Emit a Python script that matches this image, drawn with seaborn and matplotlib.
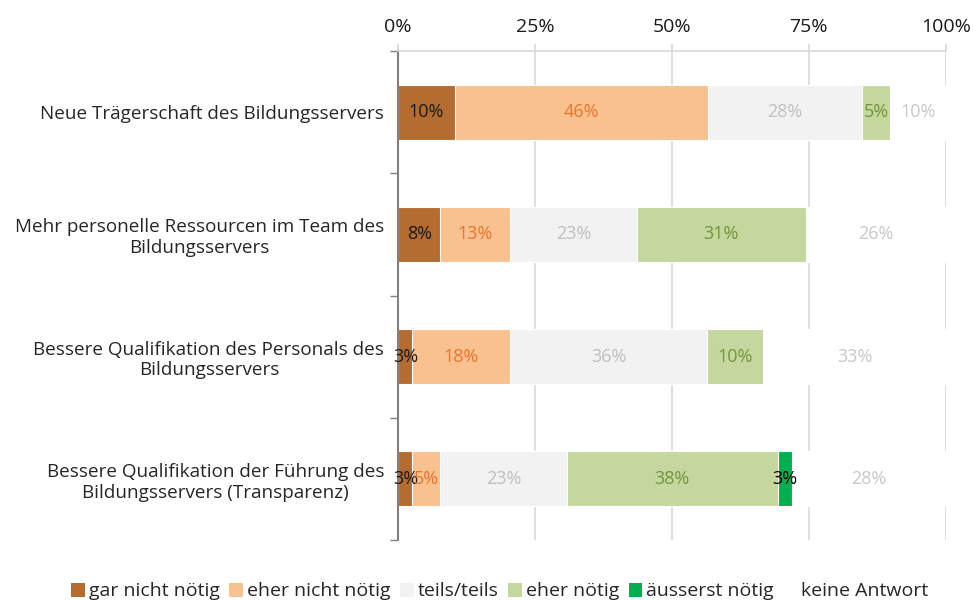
import numpy as np
import pandas as pd
import matplotlib.pyplot as plt
import seaborn as sns
from matplotlib.patches import Patch

sns.set_theme(style="white")
plt.rcParams['font.family'] = ['Open Sans', 'DejaVu Sans']

# data (percent of respondents)
questions = [
    "Neue Trägerschaft des Bildungsservers",
    "Mehr personelle Ressourcen im Team des\nBildungsservers",
    "Bessere Qualifikation des Personals des\nBildungsservers",
    "Bessere Qualifikation der Führung des\nBildungsservers (Transparenz)",
]
answers = ["gar nicht nötig", "eher nicht nötig", "teils/teils",
           "eher nötig", "äusserst nötig", "keine Antwort"]
gar_nicht = [10.3, 7.7, 2.6, 2.6]
eher_nicht = [46.2, 12.8, 17.9, 5.1]
teils = [28.2, 23.1, 35.9, 23.1]
eher = [5.1, 30.8, 10.3, 38.5]
aeusserst = [0.0, 0.0, 0.0, 2.6]
keine = [10.3, 25.6, 33.3, 28.2]

fill_colors = ["#B46C30", "#F9C18F", "#F2F2F2", "#C4D79E", "#00B050", "#FFFFFF"]
text_colors = ["#1A1A1A", "#E9762B", "#BFBFBF", "#76923C", "#000000", "#C8C8C8"]

vals = np.array([gar_nicht, eher_nicht, teils, eher, aeusserst, keine])
cum = vals.cumsum(axis=0)

fig = plt.figure(figsize=(9.76, 6), dpi=100)
ax = fig.add_axes([0.408, 0.1, 0.561, 0.815])

# stacked bars: draw cumulative totals from the outermost segment inwards
for i in range(len(answers) - 1, -1, -1):
    df = pd.DataFrame({"q": questions, "v": cum[i]})
    sns.barplot(data=df, x="v", y="q", orient="h", color=fill_colors[i],
                saturation=1, width=0.45, edgecolor="white", linewidth=0.8,
                ax=ax, zorder=2)

# segment labels
for i in range(len(answers)):
    for j in range(len(questions)):
        v = vals[i, j]
        if v <= 0:
            continue
        ax.text(cum[i, j] - v / 2, j, f"{round(v)}%", ha="center", va="center",
                color=text_colors[i], fontsize=13, zorder=3)

ax.set_xlim(0, 100)
ax.set_ylim(3.5, -0.5)
ax.set_xlabel("")
ax.set_ylabel("")
ax.xaxis.set_ticks_position("top")
ax.set_xticks([0, 25, 50, 75, 100])
ax.set_xticklabels(["0%", "25%", "50%", "75%", "100%"], fontsize=14)
ax.tick_params(axis="x", top=True, length=5, color="#D9D9D9", pad=6, colors="#1A1A1A")
ax.tick_params(axis="x", which="both", color="#D9D9D9")
ax.grid(axis="x", color="#D9D9D9", linewidth=1.2, zorder=0)
ax.set_axisbelow(True)

ax.set_yticks(range(len(questions)))
ax.set_yticklabels(questions, fontsize=13.6, multialignment="center")
ax.set_yticks(np.arange(-0.5, len(questions), 1), minor=True)
ax.tick_params(axis="y", which="major", length=0, pad=10)
ax.tick_params(axis="y", which="minor", left=True, length=6, color="#808080", width=1)

for s in ["right", "bottom"]:
    ax.spines[s].set_visible(False)
ax.spines["top"].set_color("#D9D9D9")
ax.spines["top"].set_linewidth(1.2)
ax.spines["left"].set_color("#808080")
ax.spines["left"].set_linewidth(1.5)

handles = [Patch(facecolor=c, edgecolor="none") for c in fill_colors]
fig.legend(handles, answers, loc="lower center", bbox_to_anchor=(0.512, -0.03),
           ncol=6, frameon=False, fontsize=14, handlelength=0.7, handleheight=0.7,
           handletextpad=0.2, columnspacing=0.5)

fig.savefig("out.png", dpi=100)
